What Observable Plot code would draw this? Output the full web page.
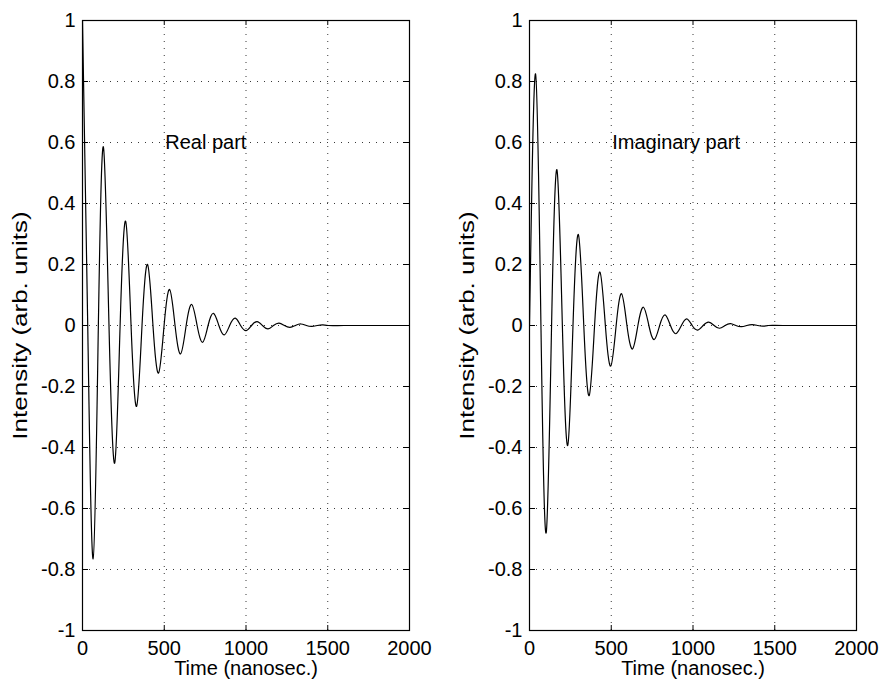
<!DOCTYPE html>
<html>
<head>
<meta charset="utf-8">
<script src="https://cdn.jsdelivr.net/npm/d3@7"></script>
<script src="https://cdn.jsdelivr.net/npm/@observablehq/plot@0.6"></script>
<style>
  html, body { margin: 0; padding: 0; background: #fff; }
  #chart { position: relative; width: 881px; height: 681px; background: #fff; overflow: hidden; }
  #chart svg { position: absolute; top: 0; }
</style>
</head>
<body>
<div id="chart"></div>
<script>
// ---- data (extrema and zero crossings) ----
const realTime = [0, 32, 65, 97, 128, 162, 197, 230, 264, 297, 331, 364, 398, 431, 465, 499, 533, 566, 600, 634, 668, 701, 735, 768, 801, 834, 867, 900, 934, 967, 1001, 1034, 1068, 1101, 1135, 1168, 1202, 1235, 1269, 1302, 1336, 1369, 1403, 1436, 1470, 1503, 1600, 1800, 2000];
const realValue = [1, 0, -0.765, 0, 0.585, 0, -0.451, 0, 0.342, 0, -0.265, 0, 0.2, 0, -0.156, 0, 0.118, 0, -0.093, 0, 0.069, 0, -0.055, 0, 0.04, 0, -0.031, 0, 0.024, 0, -0.017, 0, 0.013, 0, -0.011, 0, 0.008, 0, -0.006, 0, 0.005, 0, -0.003, 0, 0.002, 0, 0, 0, 0];

const imagTime = [0, 37, 70, 102, 135, 168, 201, 234, 266, 299, 332, 365, 398, 431, 464, 497, 530, 563, 596, 630, 663, 697, 730, 763, 796, 829, 862, 895, 929, 962, 995, 1029, 1062, 1096, 1129, 1162, 1196, 1229, 1262, 1296, 1329, 1362, 1396, 1429, 1462, 1550, 1800, 2000];
const imagValue = [0, 0.825, 0, -0.68, 0, 0.51, 0, -0.393, 0, 0.298, 0, -0.23, 0, 0.175, 0, -0.133, 0, 0.104, 0, -0.077, 0, 0.06, 0, -0.046, 0, 0.035, 0, -0.027, 0, 0.022, 0, -0.015, 0, 0.011, 0, -0.009, 0, 0.006, 0, -0.004, 0, 0.003, 0, -0.002, 0, 0, 0, 0];

const xTicks = [0, 500, 1000, 1500, 2000];
const yTicks = [-1, -0.8, -0.6, -0.4, -0.2, 0, 0.2, 0.4, 0.6, 0.8, 1];
const panelLabels = ["Real part", "Imaginary part"];
const xLabel = "Time (nanosec.)";
const yLabel = "Intensity (arb. units)";

const font = "'Liberation Sans', Arial, Helvetica, sans-serif";

function panel(time, value, label, marginRight) {
  const data = time.map((t, i) => ({t, v: value[i]}));
  const frameW = 327, frameH = 610;
  const gridStyle = {stroke: "#222", strokeOpacity: 0.9, strokeDasharray: "1,6", strokeWidth: 1};
  const svg = Plot.plot({
    width: 82 + frameW + marginRight,
    height: 681,
    marginTop: 20,
    marginBottom: 51,
    marginLeft: 82,
    marginRight: marginRight,
    x: {domain: [0, 2000]},
    y: {domain: [-1, 1]},
    style: {fontFamily: font, fontSize: "20px", background: "white", color: "black", overflow: "visible"},
    marks: [
      Plot.gridX(xTicks, gridStyle),
      Plot.gridY(yTicks, gridStyle),
      Plot.tickX(xTicks, {x: d => d, insetTop: frameH - 5, stroke: "black"}),
      Plot.tickX(xTicks, {x: d => d, insetBottom: frameH - 5, stroke: "black"}),
      Plot.tickY(yTicks, {y: d => d, insetRight: frameW - 6, stroke: "black"}),
      Plot.tickY(yTicks, {y: d => d, insetLeft: frameW - 6, stroke: "black"}),
      Plot.axisX(xTicks, {tickSize: 0, tickPadding: 10, tickFormat: d => String(d), fontSize: 20, label: null}),
      Plot.axisY(yTicks, {tickSize: 0, tickPadding: 7, tickFormat: d => String(d), fontSize: 20, label: null}),
      Plot.line(data, {x: "t", y: "v", curve: "natural", stroke: "black", strokeWidth: 1.2, clip: true}),
      Plot.text([label], {x: 500, y: 0.6, text: d => d, textAnchor: "start", dx: 1, fontSize: 20}),
      Plot.text([yLabel], {text: d => d, frameAnchor: "left", textAnchor: "middle", lineAnchor: "middle", rotate: -90, dx: -62, fontSize: 20}),
      Plot.text([xLabel], {text: d => d, frameAnchor: "bottom", textAnchor: "middle", lineAnchor: "middle", dy: 38, fontSize: 20}),
      Plot.frame({stroke: "black", strokeWidth: 1.2})
    ]
  });
  // the scanned original is slightly stretched vertically: stretch the rotated label along its length
  d3.select(svg).selectAll("text").filter(function() { return this.textContent === yLabel; })
    .each(function() {
      const tr = this.getAttribute("transform") || "";
      this.setAttribute("transform", tr + " scale(1.3,1)");
    });
  return svg;
}

const chart = document.getElementById("chart");
const left = panel(realTime, realValue, panelLabels[0], 30);
left.style.left = "0px";
chart.appendChild(left);
const right = panel(imagTime, imagValue, panelLabels[1], 24);
right.style.left = "447px";
chart.appendChild(right);
</script>
</body>
</html>
